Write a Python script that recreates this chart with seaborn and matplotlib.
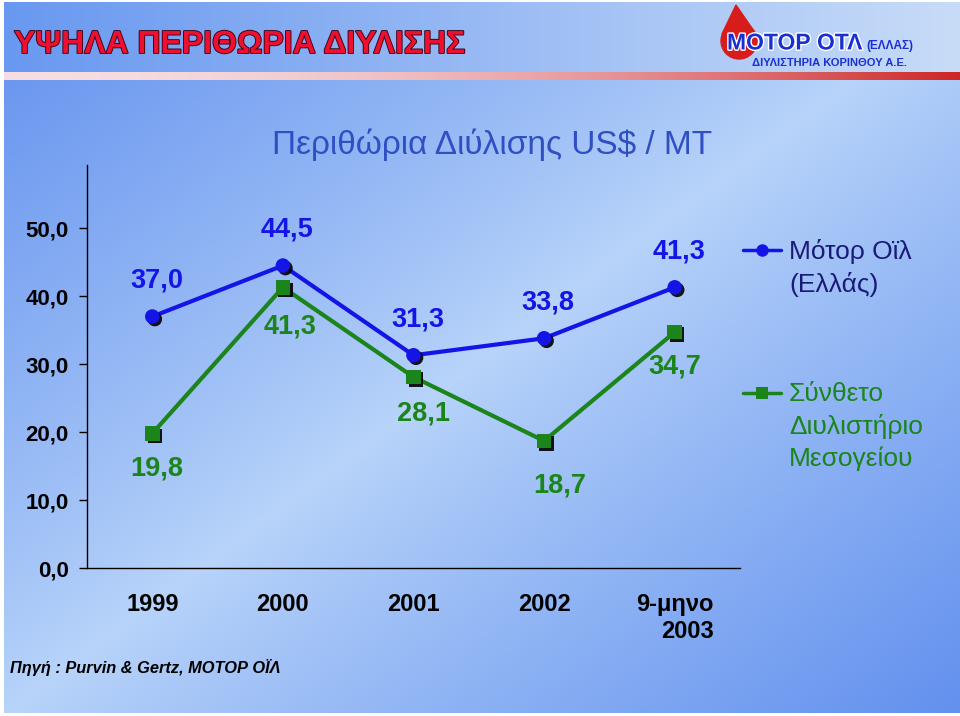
import numpy as np
import pandas as pd
import seaborn as sns
import matplotlib.pyplot as plt
import matplotlib.patheffects as pe
from matplotlib.lines import Line2D
from matplotlib.patches import Circle, Polygon

# data
periods = ["1999", "2000", "2001", "2002", "9-μηνο\n2003"]
motor_oil = [37.0, 44.5, 31.3, 33.8, 41.3]
mesogeiou = [19.8, 41.3, 28.1, 18.7, 34.7]
series_names = ["Μότορ Οϊλ\n(Ελλάς)", "Σύνθετο\nΔιυλιστήριο\nΜεσογείου"]
yticks = [0, 10, 20, 30, 40, 50]

BLUE = "#1414e6"
GREEN = "#1b841b"
LEG_BLUE = "#1a1a78"

df = pd.DataFrame({
    "pos": list(range(len(periods))) * 2,
    "margin": motor_oil + mesogeiou,
    "series": [series_names[0]] * len(periods) + [series_names[1]] * len(periods),
})

sns.set_theme(style="white")
plt.rcParams["font.family"] = ["Liberation Sans", "DejaVu Sans"]

W, H = 960, 716
fig = plt.figure(figsize=(9.6, 7.16), dpi=100)

# background in pixel coordinates
bg = fig.add_axes([0, 0, 1, 1])
bg.set_xlim(0, W)
bg.set_ylim(H, 0)
bg.axis("off")

yy, xx = np.mgrid[0:H, 0:W]
t = 0.5 * xx / W + 0.5 * yy / H
d = np.clip(np.abs(t - 0.5) * 2, 0, 1) ** 0.9
light = np.array([184, 212, 250]) / 255
dark = np.array([98, 144, 238]) / 255
img = light + (dark - light) * d[..., None]

# header band
hx = (xx[:72] / W)
hl = np.array([104, 152, 240]) / 255
hr = np.array([200, 220, 248]) / 255
img[:72] = hl + (hr - hl) * hx[..., None]
# red strip
sx = (xx[72:80] / W) ** 2
sl = np.array([246, 222, 226]) / 255
sr = np.array([206, 36, 36]) / 255
img[72:80] = sl + (sr - sl) * sx[..., None]
# white margins
img[:, :4] = 1.0
img[713:] = 1.0
img[:2] = 1.0
bg.imshow(img, extent=(0, W, H, 0), aspect="auto", interpolation="bilinear")

# header title
bg.text(14, 45, "ΥΨΗΛΑ ΠΕΡΙΘΩΡΙΑ ΔΙΥΛΙΣΗΣ", fontsize=23, fontweight="bold",
        color="#ee1030", va="center", ha="left",
        path_effects=[pe.Stroke(linewidth=1.3, foreground="#3a0010"), pe.Normal()])

# logo
bg.add_patch(Circle((739, 41), 18, color="#d81c1c", zorder=2))
bg.add_patch(Polygon([(722, 34), (736, 5), (756, 34)], closed=True, color="#d81c1c", zorder=2))
bg.text(727, 43, "ΜΟΤΟΡ ΟΤΛ", fontsize=16.5, fontweight="heavy", color="#1a2fd0",
        va="center", ha="left", zorder=3,
        path_effects=[pe.Stroke(linewidth=2, foreground="white"), pe.Normal()])
bg.text(866, 46, "(ΕΛΛΑΣ)", fontsize=8.5, fontweight="bold", color="#1a2fd0",
        va="center", ha="left", zorder=3)
bg.text(752, 63, "ΔΙΥΛΙΣΤΗΡΙΑ ΚΟΡΙΝΘΟΥ Α.Ε.", fontsize=8, fontweight="bold",
        color="#1a2fd0", va="center", ha="left", zorder=3)

# chart title
bg.text(492, 145, "Περιθώρια Διύλισης US$ / MT", fontsize=24, color="#2f4fc2",
        ha="center", va="center")

# footer
bg.text(10, 667, "Πηγή : Purvin & Gertz, ΜΟΤΟΡ ΟΪΛ", fontsize=11.8, fontstyle="italic",
        fontweight="bold", color="black", ha="left", va="center")

# main chart
ax = fig.add_axes([87 / W, 148 / H, 653 / W, 403 / H])
ax.patch.set_alpha(0)

sns.lineplot(data=df, x="pos", y="margin", hue="series", palette=[BLUE, GREEN],
             linewidth=3, legend=False, ax=ax)
sns.scatterplot(data=df, x="pos", y="margin", hue="series", style="series",
                markers=["o", "s"], palette=[BLUE, GREEN], s=110, linewidth=0,
                legend=False, ax=ax, zorder=4)
ax.collections[-1].set_path_effects(
    [pe.SimplePatchShadow(offset=(1.8, -1.8), shadow_rgbFace="black", alpha=0.9), pe.Normal()])

# value labels
green_dx = [3, 5, 7, 11, 0]
green_dy = [-25, -28, -26, -32, -25]
for i, v in enumerate(motor_oil):
    ax.annotate(f"{v:.1f}".replace(".", ","), (i, v), xytext=(3, 26),
                textcoords="offset points", ha="center", va="center",
                fontsize=19.5, fontweight="bold", color=BLUE)
for i, v in enumerate(mesogeiou):
    ax.annotate(f"{v:.1f}".replace(".", ","), (i, v), xytext=(green_dx[i], green_dy[i]),
                textcoords="offset points", ha="center", va="center",
                fontsize=19.5, fontweight="bold", color=GREEN)

ax.set_xlim(-0.5, len(periods) - 0.5)
ax.set_ylim(0, 59.3)
ax.set_yticks(yticks)
ax.set_yticklabels([f"{v:.1f}".replace(".", ",") for v in yticks],
                   fontsize=16, fontweight="bold", color="black")
ax.set_xticks(range(len(periods)))
ax.set_xticklabels(periods, fontsize=17, fontweight="bold", color="black",
                   multialignment="right")
ax.set_xticks([-0.5, len(periods) - 0.5], minor=True)
ax.tick_params(axis="x", which="major", length=0, pad=18)
ax.tick_params(axis="x", which="minor", length=6, width=1, color="black", direction="out")
ax.tick_params(axis="y", length=6, width=1, color="black", direction="out", pad=7, left=True)
ax.set_xlabel("")
ax.set_ylabel("")
sns.despine(ax=ax)
for s in ["left", "bottom"]:
    ax.spines[s].set_color("black")
    ax.spines[s].set_linewidth(1)

# legend keys
for (y0, color, marker, label, tcolor) in [
        (250, BLUE, "o", series_names[0], LEG_BLUE),
        (393, GREEN, "s", series_names[1], GREEN)]:
    bg.add_line(Line2D([743, 781], [y0, y0], color=color, lw=2.5))
    bg.add_line(Line2D([762], [y0], color=color, marker=marker, markersize=9,
                       markeredgewidth=0, linestyle="none"))
    bg.text(789, y0 - 11, label, fontsize=19, color=tcolor, ha="left", va="top",
            linespacing=1.4)

fig.savefig("out.png", dpi=100)
